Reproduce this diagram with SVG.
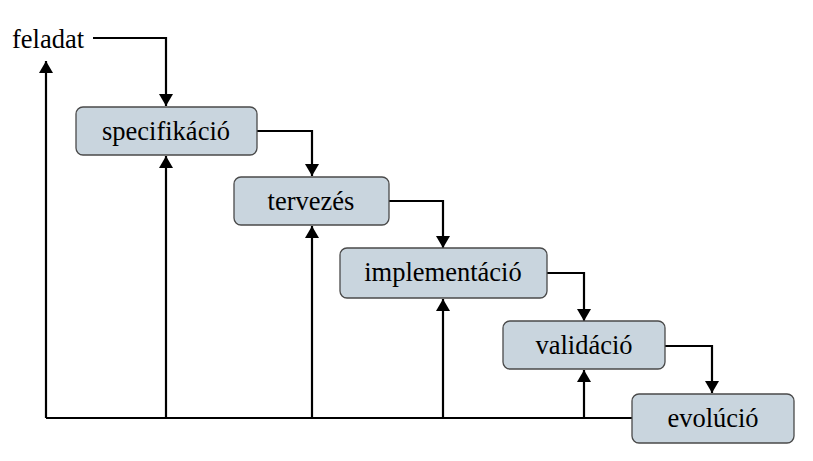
<svg xmlns="http://www.w3.org/2000/svg" width="813" height="461" viewBox="0 0 813 461">
<style>
.box{fill:#c9d5de;stroke:#4a4a4a;stroke-width:1.3}
.lbl{font-family:"Liberation Serif","Times New Roman",serif;font-size:26.5px;fill:#000;text-anchor:middle}
.c{fill:none;stroke:#000;stroke-width:2.2}
</style>
<defs>
<marker id="ah" viewBox="0 0 12 14" refX="12" refY="7" markerWidth="12" markerHeight="14" markerUnits="userSpaceOnUse" orient="auto">
<path d="M0,0 L12,7 L0,14 Z" fill="#000"/>
</marker>
</defs>
<rect width="813" height="461" fill="#fff"/>
<g id="connectors">
<path class="c" d="M46,418 H632"/>
<path class="c" d="M46,418 V61" marker-end="url(#ah)"/>
<path class="c" d="M93,38 H166 V106" marker-end="url(#ah)"/>
<path class="c" d="M257,131 H312 V176" marker-end="url(#ah)"/>
<path class="c" d="M389,201 H443 V248" marker-end="url(#ah)"/>
<path class="c" d="M547,273 H584 V321" marker-end="url(#ah)"/>
<path class="c" d="M665,346 H712 V393" marker-end="url(#ah)"/>
<path class="c" d="M166,418 V156" marker-end="url(#ah)"/>
<path class="c" d="M312,418 V226" marker-end="url(#ah)"/>
<path class="c" d="M443,418 V299" marker-end="url(#ah)"/>
<path class="c" d="M584,418 V370" marker-end="url(#ah)"/>
</g>
<g id="feladat"><text class="lbl" x="48" y="48">feladat</text></g>
<g id="specifikacio"><rect class="box" x="76" y="107" width="181" height="48" rx="7"/><text class="lbl" x="166" y="140">specifikáció</text></g>
<g id="tervezes"><rect class="box" x="234" y="177" width="155" height="48" rx="7"/><text class="lbl" x="311" y="210">tervezés</text></g>
<g id="implementacio"><rect class="box" x="340" y="248" width="207" height="50" rx="7"/><text class="lbl" x="443" y="281">implementáció</text></g>
<g id="validacio"><rect class="box" x="503" y="321" width="162" height="48" rx="7"/><text class="lbl" x="584" y="354">validáció</text></g>
<g id="evolucio"><rect class="box" x="632" y="394" width="162" height="49" rx="7"/><text class="lbl" x="713" y="427">evolúció</text></g>
</svg>
